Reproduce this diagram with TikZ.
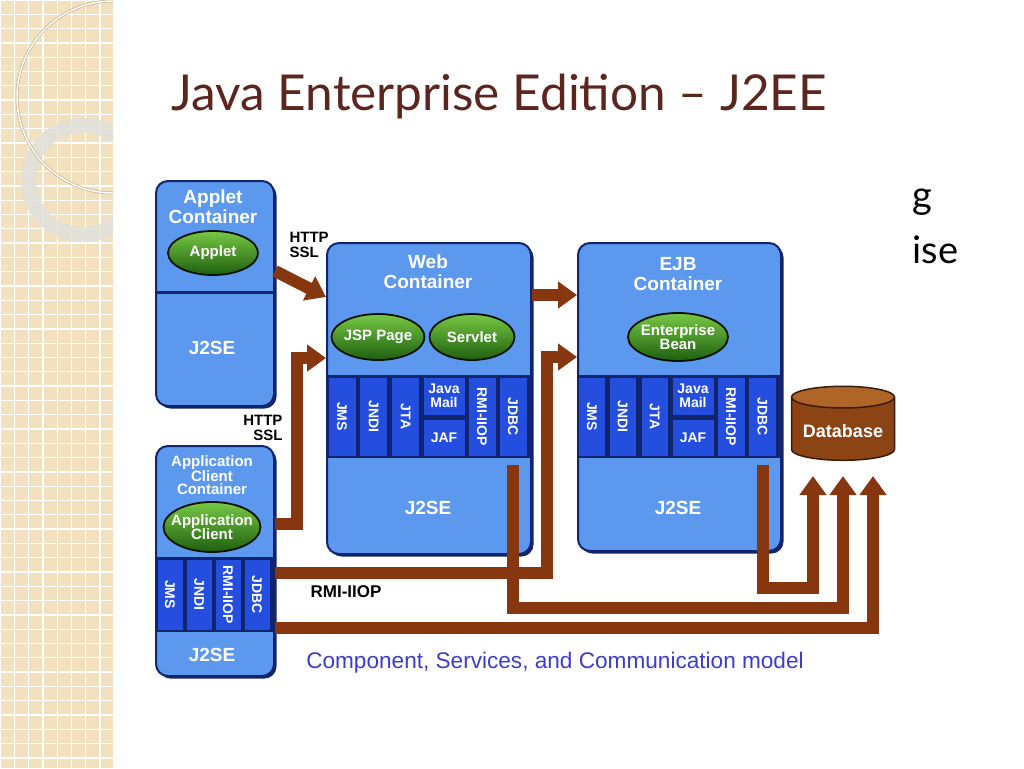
\documentclass[tikz,border=0pt]{standalone}
\usepackage{fontspec}
\setmainfont{Liberation Sans}
\newfontfamily\titlefont{Lato}
\usetikzlibrary{arrows.meta,shapes.geometric,shadows}

\definecolor{stripbg}{RGB}{242,224,190}
\definecolor{ringgray}{RGB}{226,224,218}
\definecolor{circtan}{RGB}{205,185,150}
\definecolor{titlebrown}{RGB}{92,38,30}
\definecolor{contblue}{RGB}{92,153,238}
\definecolor{contnavy}{RGB}{18,36,110}
\definecolor{svcblue}{RGB}{36,78,222}
\definecolor{beanlight}{RGB}{120,200,70}
\definecolor{beandark}{RGB}{30,95,15}
\definecolor{pipebrown}{RGB}{135,55,15}
\definecolor{dbbody}{RGB}{140,68,20}
\definecolor{dbtop}{RGB}{175,100,40}
\definecolor{captionblue}{RGB}{60,60,205}

\begin{document}
\begin{tikzpicture}
                [x=1pt, y=-1pt,
                  container/.style={draw=contnavy, line width=2pt, fill=contblue, rounded corners=12pt, anchor=north west,
                    drop shadow={shadow xshift=2.5pt, shadow yshift=-2.5pt, fill=contnavy, opacity=1}},
                  svcrow/.style={fill=contnavy, anchor=north west, inner sep=0pt},
                  svcflat/.style={draw=contnavy, line width=1pt, fill=svcblue, inner sep=0pt, text=white, align=center,
                    font=\bfseries\fontsize{14}{14}\selectfont},
                  svc/.style={svcflat, rotate=-90},
                  bean/.style={ellipse, draw=black!80!beandark, line width=1.8pt, top color=beanlight, bottom color=beandark,
                    text=white, align=center, inner xsep=-14pt, inner ysep=-6pt, font=\bfseries\fontsize{15}{14.5}\selectfont},
                  ctitle/.style={text=white, align=center, font=\bfseries\fontsize{19}{20}\selectfont},
                  divider/.style={draw=contnavy, line width=3pt},
                  pipe/.style={draw=pipebrown, line width=12pt},
                  pipearrow/.style={pipe, -{Triangle[width=26pt,length=19pt]}},
                  plabel/.style={text=black, align=left, font=\bfseries\fontsize{15}{15}\selectfont},
                ]
                \fill[white] (0,0) rectangle (1024,768);
                \useasboundingbox (0,0) rectangle (1024,768);

                % left strip
                \begin{scope}
                  \clip (0,0) rectangle (113,768);
                  \fill[stripbg] (0,0) rectangle (113,768);
                  \draw[white, line width=1.3pt] (0,0) grid[step=14.3pt] (113,768);
                  \fill[ringgray, opacity=0.9, even odd rule] (83,180) circle[radius=62] (83,180) circle[radius=47];
                  \draw[circtan, line width=3pt] (113,97) circle[radius=96];
                  \draw[white, line width=1.4pt] (113,97) circle[radius=96];
                \end{scope}

                \node (title) [anchor=base west, text=titlebrown, font=\titlefont\fontsize{49.5}{49.5}\selectfont] at (168,110)
                  {Java Enterprise Edition – J2EE};
                \node (gtxt) [anchor=base west, font=\titlefont\fontsize{38}{38}\selectfont] at (909,208) {g};
                \node (isetxt) [anchor=base west, font=\titlefont\fontsize{38}{38}\selectfont] at (909,263) {ise};

                % containers
                \node (appletbox) [container, minimum width=118pt, minimum height=225pt] at (155,180) {};
                \node (webbox) [container, minimum width=204pt, minimum height=311pt] at (326,242) {};
                \node (ejbbox) [container, minimum width=203pt, minimum height=308pt] at (577,242) {};
                \node (clientbox) [container, minimum width=118pt, minimum height=230pt] at (155,445) {};
                \draw[divider] (appletbox.west |- 0,292) -- (appletbox.east |- 0,292);

                % service rows
                \node (webrow) [svcrow, minimum width=204pt, minimum height=83pt] at (326,375) {};
                \node (ejbrow) [svcrow, minimum width=203pt, minimum height=83pt] at (577,375) {};
                \node (clientrow) [svcrow, minimum width=118pt, minimum height=75pt] at (155,557) {};

                \node (wjms) [svc, minimum width=79pt, minimum height=28pt] at (342,416.5) {JMS};
                \node (wjndi) [svc, minimum width=79pt, minimum height=28pt] at (373.5,416.5) {JNDI};
                \node (wjta) [svc, minimum width=79pt, minimum height=28pt] at (405.5,416.5) {JTA};
                \node (wmail) [svcflat, minimum width=42pt, minimum height=38pt] at (444,396) {Java\\Mail};
                \node (wjaf) [svcflat, minimum width=42pt, minimum height=37pt] at (444,437.5) {JAF};
                \node (wrmi) [svc, minimum width=79pt, minimum height=28pt] at (482,416.5) {RMI-IIOP};
                \node (wjdbc) [svc, minimum width=79pt, minimum height=28pt] at (513,416.5) {JDBC};

                \node (ejms) [svc, minimum width=79pt, minimum height=27pt] at (592,416.5) {JMS};
                \node (ejndi) [svc, minimum width=79pt, minimum height=27pt] at (622.5,416.5) {JNDI};
                \node (ejta) [svc, minimum width=79pt, minimum height=27pt] at (654.5,416.5) {JTA};
                \node (email) [svcflat, minimum width=42pt, minimum height=38pt] at (693,396) {Java\\Mail};
                \node (ejaf) [svcflat, minimum width=42pt, minimum height=37pt] at (693,437.5) {JAF};
                \node (ermi) [svc, minimum width=79pt, minimum height=28pt] at (731,416.5) {RMI-IIOP};
                \node (ejdbc) [svc, minimum width=79pt, minimum height=28pt] at (762.5,416.5) {JDBC};

                \node (cjms) [svc, minimum width=71pt, minimum height=26pt] at (170,594.5) {JMS};
                \node (cjndi) [svc, minimum width=71pt, minimum height=26pt] at (199,594.5) {JNDI};
                \node (crmi) [svc, minimum width=71pt, minimum height=26pt] at (228,594.5) {RMI-IIOP};
                \node (cjdbc) [svc, minimum width=71pt, minimum height=26pt] at (257,594.5) {JDBC};

                % titles and beans
                \node (applettitle) [ctitle] at (213,207) {Applet\\Container};
                \node (appletse) [ctitle] at (212,348) {J2SE};
                \node (webtitle) [ctitle] at (428,272) {Web\\Container};
                \node (webse) [ctitle] at (428,508) {J2SE};
                \node (ejbtitle) [ctitle] at (678,274) {EJB\\Container};
                \node (ejbse) [ctitle] at (678,508) {J2SE};
                \node (clienttitle) [ctitle, inner sep=0pt, font=\bfseries\fontsize{15}{13.5}\selectfont] at (212,475) {Application\\Client\\Container};
                \node (clientse) [ctitle] at (212,655) {J2SE};

                \node (appletbean) [bean, minimum width=90pt, minimum height=44pt] at (213,253) {Applet};
                \node (jsp) [bean, minimum width=93pt, minimum height=46pt] at (378,337) {JSP Page};
                \node (servlet) [bean, minimum width=85pt, minimum height=46pt] at (472,337) {Servlet};
                \node (ebean) [bean, minimum width=100pt, minimum height=48pt] at (678,337) {Enterprise\\Bean};
                \node (appclient) [bean, minimum width=97pt, minimum height=50pt] at (212,527) {Application\\Client};

                \node (db) [cylinder, shape border rotate=90, aspect=0.25, minimum width=103pt, minimum height=74pt,
                  draw=black!60!dbbody, line width=1.5pt, cylinder uses custom fill, cylinder body fill=dbbody,
                  cylinder end fill=dbtop, text=white, font=\bfseries\fontsize{18}{18}\selectfont] at (843,431) {Database};

                % connectors
                \draw[pipearrow] (appletbox.east |- 0,271) -- (webbox.west |- 0,297);
                \draw[pipearrow] (clientbox.east |- 0,524) -| (297,358) -- (webbox.west |- 0,358);
                \draw[pipearrow] (webbox.east |- 0,295) -- (ejbbox.west |- 0,295);
                \draw[pipearrow] (clientbox.east |- 0,573) -| (547,357) -- (ejbbox.west |- 0,357);
                \draw[pipearrow, shorten >=15pt] (ejdbc |- 0,465) |- (813,588) -- (db.south -| 813,0);
                \draw[pipearrow, shorten >=15pt] (wjdbc |- 0,465) |- (db.south |- 0,608) -- (db.south);
                \draw[pipearrow, shorten >=15pt] (clientbox.east |- 0,628) -| (db.south -| 873,0);

                \node (http1) [plabel, anchor=north west] at (286,229) {HTTP\\SSL};
                \node (http2) [plabel, anchor=north east, align=right] at (286,412) {HTTP\\SSL};
                \node (rmilbl) [plabel, font=\bfseries\fontsize{17}{17}\selectfont] at (346,592) {RMI-IIOP};
                \node (caption) [text=captionblue, font=\fontsize{22.6}{22.6}\selectfont] at (555,663)
                  {Component, Services, and Communication model};
            \end{tikzpicture}
\end{document}
